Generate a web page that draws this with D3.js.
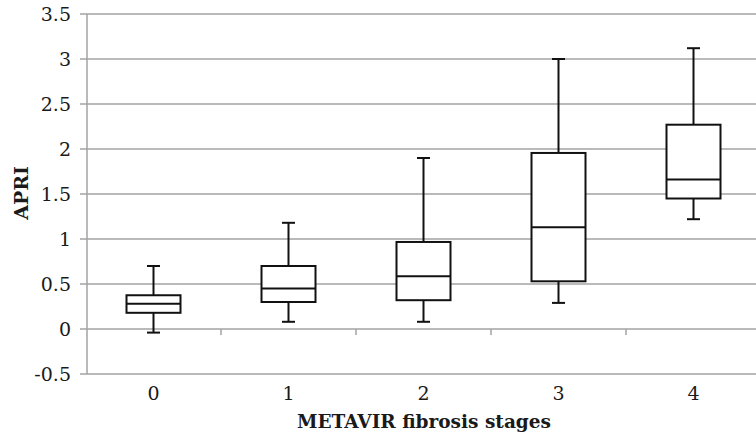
<!DOCTYPE html>
<html><head><meta charset="utf-8">
<script src="https://cdn.jsdelivr.net/npm/d3@7"></script>
<style>body{margin:0;background:#fff;} svg{display:block;}</style>
</head><body>
<script>
const categories = ["0","1","2","3","4"];
const whiskerLow  = [-0.04, 0.08, 0.08, 0.29, 1.22];
const q1          = [0.18, 0.30, 0.32, 0.53, 1.45];
const median      = [0.28, 0.45, 0.585, 1.13, 1.66];
const q3          = [0.375, 0.70, 0.967, 1.956, 2.27];
const whiskerHigh = [0.70, 1.18, 1.90, 3.00, 3.12];
const yTicks = [-0.5, 0, 0.5, 1, 1.5, 2, 2.5, 3, 3.5];
const yTickLabels = ["-0.5","0","0.5","1","1.5","2","2.5","3","3.5"];

const W = 756, H = 434;
const margin = {left: 87, right: -5, top: 14, bottom: 60};
const svg = d3.select("body").append("svg").attr("width", W).attr("height", H);

const x = d3.scaleBand().domain(categories).range([margin.left - 1, W - margin.right]).paddingInner(0).paddingOuter(0);
const y = d3.scaleLinear().domain([-0.5, 3.5]).range([H - margin.bottom, margin.top]);

const font = "'DejaVu Serif', serif";
const grid = "#a3a3a3";

// gridlines
svg.append("g").selectAll("line").data(yTicks).join("line")
  .attr("x1", margin.left - 7).attr("x2", W)
  .attr("y1", d => y(d)).attr("y2", d => y(d))
  .attr("stroke", grid).attr("stroke-width", 1.5);

// y axis line
svg.append("line").attr("x1", margin.left).attr("x2", margin.left)
  .attr("y1", y(3.5)).attr("y2", y(-0.5)).attr("stroke", grid).attr("stroke-width", 1.5);

// y tick labels
svg.append("g").selectAll("text").data(yTicks).join("text")
  .attr("x", 71).attr("y", d => y(d)).attr("dy", "0.36em")
  .attr("text-anchor", "end").attr("font-family", font).attr("font-size", 19)
  .attr("fill", "#1a1a1a").text((d, i) => yTickLabels[i]);

// category axis at 0 with ticks at band boundaries
const bounds = categories.slice(1).map(c => x(c));
svg.append("g").selectAll("line").data(bounds).join("line")
  .attr("x1", d => d).attr("x2", d => d)
  .attr("y1", y(0)).attr("y2", y(0) + 6)
  .attr("stroke", grid).attr("stroke-width", 1.5);

// category labels
svg.append("g").selectAll("text").data(categories).join("text")
  .attr("x", d => x(d) + x.bandwidth() / 2).attr("y", 400)
  .attr("text-anchor", "middle").attr("font-family", font).attr("font-size", 19)
  .attr("fill", "#1a1a1a").text(d => d);

// axis titles
svg.append("text").attr("x", 424).attr("y", 428).attr("text-anchor", "middle")
  .attr("font-family", font).attr("font-weight", "bold").attr("font-size", 18.5)
  .attr("fill", "#1a1a1a").text("METAVIR fibrosis stages");
svg.append("text").attr("transform", "translate(28,193) rotate(-90)").attr("text-anchor", "middle")
  .attr("font-family", font).attr("font-weight", "bold").attr("font-size", 19)
  .attr("fill", "#1a1a1a").text("APRI");

// boxes
const bw = 54, cap = 13;
const g = svg.append("g").selectAll("g").data(categories).join("g")
  .attr("transform", d => `translate(${x(d) + x.bandwidth() / 2},0)`);
g.append("line").attr("x1", 0).attr("x2", 0)
  .attr("y1", (d, i) => y(whiskerHigh[i])).attr("y2", (d, i) => y(q3[i]))
  .attr("stroke", "#111").attr("stroke-width", 2);
g.append("line").attr("x1", 0).attr("x2", 0)
  .attr("y1", (d, i) => y(q1[i])).attr("y2", (d, i) => y(whiskerLow[i]))
  .attr("stroke", "#111").attr("stroke-width", 2);
g.append("line").attr("x1", -cap / 2).attr("x2", cap / 2)
  .attr("y1", (d, i) => y(whiskerHigh[i])).attr("y2", (d, i) => y(whiskerHigh[i]))
  .attr("stroke", "#111").attr("stroke-width", 2);
g.append("line").attr("x1", -cap / 2).attr("x2", cap / 2)
  .attr("y1", (d, i) => y(whiskerLow[i])).attr("y2", (d, i) => y(whiskerLow[i]))
  .attr("stroke", "#111").attr("stroke-width", 2);
g.append("rect").attr("x", -bw / 2).attr("width", bw)
  .attr("y", (d, i) => y(q3[i])).attr("height", (d, i) => y(q1[i]) - y(q3[i]))
  .attr("fill", "#fff").attr("stroke", "#111").attr("stroke-width", 2);
g.append("line").attr("x1", -bw / 2).attr("x2", bw / 2)
  .attr("y1", (d, i) => y(median[i])).attr("y2", (d, i) => y(median[i]))
  .attr("stroke", "#111").attr("stroke-width", 2);
</script>
</body></html>
